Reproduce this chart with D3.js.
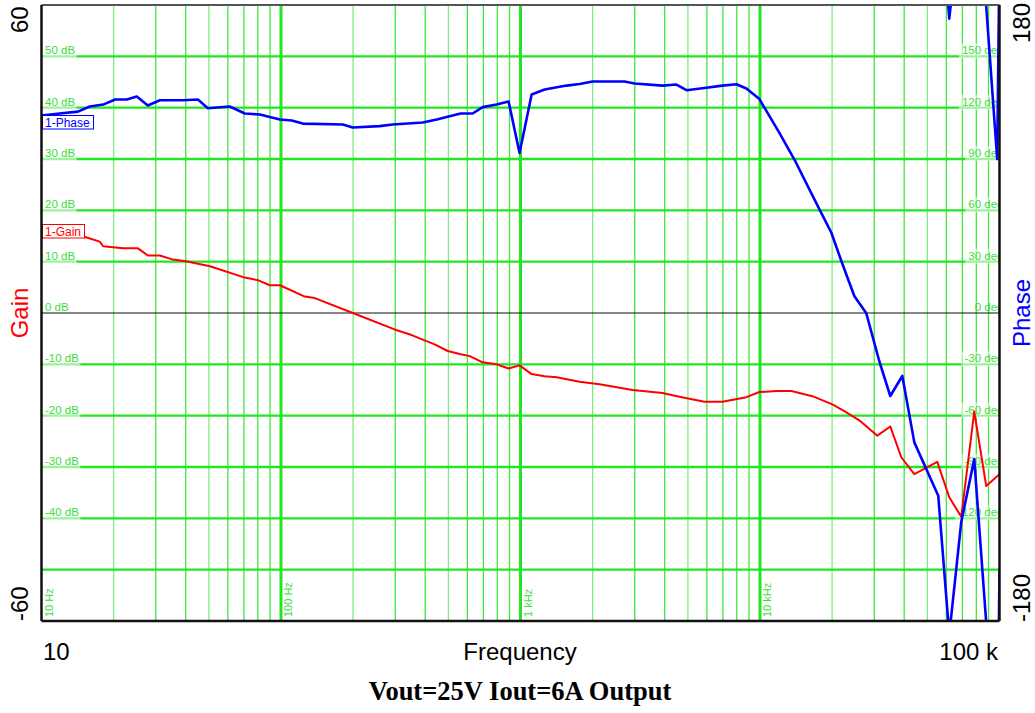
<!DOCTYPE html>
<html>
<head>
<meta charset="utf-8">
<script src="https://cdn.jsdelivr.net/npm/d3@7"></script>
<style>
  html, body { margin: 0; padding: 0; background: #fff; }
  svg { display: block; }
</style>
</head>
<body>
<svg id="chart" width="1035" height="713"></svg>
<script>
// Loop gain measurement: frequency (Hz) and gain (dB)
const freqGain = [10, 15.2, 17.5, 18.1, 21.9, 25.3, 27.8, 31.2, 35.4, 40.1, 50.5, 70.6, 80, 89.8, 98.9,
  125.7, 138.4, 199.4, 298, 351, 438, 497, 557, 614, 695, 795, 892, 991,
  1113, 1261, 1415, 1765, 2138, 2936, 3915, 4610, 5861, 6967, 8776, 9943,
  11710, 13520, 16550, 20050, 22500, 25980, 30890, 34990, 38900, 44090, 54970, 61700, 69220, 78450, 88020, 100000];
const gainDb = [16.0, 14.8, 13.9, 13.0, 12.6, 12.6, 11.2, 11.2, 10.4, 10.1, 9.1, 6.9, 6.4, 5.4, 5.4,
  3.2, 2.9, 0, -3.2, -4.3, -6.1, -7.4, -8.0, -8.4, -9.6, -10.0, -10.8, -10.2,
  -11.9, -12.3, -12.5, -13.4, -13.9, -15.0, -15.6, -16.3, -17.3, -17.3, -16.4, -15.4,
  -15.2, -15.2, -16.2, -17.8, -19.1, -20.9, -23.9, -22.1, -28.1, -31.4, -29.0, -35.9, -39.7, -19.2, -33.7, -31.4];

// Loop phase measurement: frequency (Hz) and unwrapped phase (deg)
const freqPhase = [10, 11.9, 14.2, 15.9, 18.1, 20.3, 22.7, 25.0, 27.8, 31.2, 38.9, 45.0, 49.5, 61.1, 70.6, 81.6, 98.9,
  110.9, 123.3, 181.1, 199.4, 258, 293, 391, 447, 506, 562, 631, 695, 795, 892, 991,
  1113, 1261, 1557, 1765, 1999, 2719, 2992, 3915, 4479, 4932, 5750, 6967, 7972, 8776, 9943,
  12050, 13920, 16870, 19860, 21860, 24760, 27790, 31490, 34990, 39280, 44090, 55500, 61700, 69220, 78450, 88020, 97800, 100000];
const phaseDeg = [115.4, 116.6, 117.7, 120.7, 121.8, 124.8, 124.8, 126.5, 121.3, 124.3, 124.3, 124.8, 119.7, 120.7, 116.6, 116.0, 113.1,
  112.5, 110.7, 110.2, 108.4, 109.2, 110.2, 111.3, 113.1, 115.0, 116.6, 116.6, 120.3, 121.8, 123.6, 93.5,
  127.7, 130.6, 132.9, 133.8, 135.3, 135.3, 134.1, 132.9, 133.5, 130.2, 131.3, 132.9, 133.7, 131.2, 125.0,
  105.3, 89.7, 66.4, 46.9, 30.4, 9.9, -0.2, -28.2, -48.5, -36.8, -75.6, -106.8, -188, -122.2, -85.4, -181, -270, -150];

// Axis tick values and labels
const gainTicks = [50, 40, 30, 20, 10, 0, -10, -20, -30, -40];
const phaseTicks = [150, 120, 90, 60, 30, 0, -30, -60, -90, -120];
const decadeFreqs = [10, 100, 1000, 10000];
const decadeNames = ["10 Hz", "100 Hz", "1 kHz", "10 kHz"];

const svg = d3.select("#chart");
const L = 41.5, R = 999.5, T = 5, B = 621;

const x = d3.scaleLog().domain([10, 100000]).range([L, R]);
const yG = d3.scaleLinear().domain([-60, 60]).range([B, T]);
const yP = d3.scaleLinear().domain([-180, 180]).range([B, T]);

const GREEN = "#22e622";
const LABEL_GREEN = "#3ddc3d";

svg.append("rect").attr("width", 1035).attr("height", 713).attr("fill", "#fff");

svg.append("defs").append("clipPath").attr("id", "plotClip")
  .append("rect").attr("x", L).attr("y", T).attr("width", R - L).attr("height", B - T);

const grid = svg.append("g");

// vertical minor lines (2..9 per decade)
const minor = [];
decadeFreqs.forEach(d => { for (let m = 2; m <= 9; m++) minor.push(d * m); });
grid.selectAll("line.minor").data(minor).join("line")
  .attr("class", "minor")
  .attr("x1", d => x(d)).attr("x2", d => x(d))
  .attr("y1", T).attr("y2", B)
  .attr("stroke", (d, i) => (i % 8 === 0 || i % 8 === 3) ? "#7eec7e" : "#3fe63f")
  .attr("stroke-width", 1.3);

// decade lines
grid.selectAll("line.major").data(decadeFreqs.slice(1)).join("line")
  .attr("class", "major")
  .attr("x1", d => x(d)).attr("x2", d => x(d))
  .attr("y1", T).attr("y2", B)
  .attr("stroke", GREEN).attr("stroke-width", 3);

// horizontal grid (every 10 dB / 30 deg)
const hLines = d3.range(-50, 60, 10);
grid.selectAll("line.h").data(hLines).join("line")
  .attr("class", "h")
  .attr("x1", L).attr("x2", R)
  .attr("y1", d => yG(d)).attr("y2", d => yG(d))
  .attr("stroke", d => d === 0 ? "#111" : GREEN)
  .attr("stroke-width", d => d === 0 ? 1.2 : 2.4);

// left gain labels with translucent boxes
const labelFont = "Liberation Sans, Arial, sans-serif";
const gl = svg.append("g");
gainTicks.forEach(v => {
  const bg = gl.append("rect").attr("fill", "#fff").attr("opacity", 0.55);
  const t = gl.append("text")
    .attr("x", L + 3.5).attr("y", yG(v) - 2)
    .attr("font-family", labelFont).attr("font-size", 11.5)
    .attr("fill", LABEL_GREEN).text(v + " dB");
  const w = t.node().getComputedTextLength();
  if (v !== 0) bg.attr("x", L + 1).attr("y", yG(v) - 13).attr("width", w + 4).attr("height", 15);
});

// right phase labels, clipped at plot edge
const pl = svg.append("g").attr("clip-path", "url(#plotClip)");
phaseTicks.forEach(v => {
  const bg = pl.append("rect").attr("fill", "#fff").attr("opacity", 0.55);
  const t = pl.append("text")
    .attr("x", R + 4).attr("y", yP(v) - 2)
    .attr("text-anchor", "end")
    .attr("font-family", labelFont).attr("font-size", 11.5)
    .attr("fill", LABEL_GREEN).text(v + " deg");
  const w = t.node().getComputedTextLength();
  if (v !== 0) bg.attr("x", R + 4 - w - 3).attr("y", yP(v) - 13).attr("width", w + 3).attr("height", 15);
});

// rotated decade labels along the bottom
svg.append("g").selectAll("text").data(decadeFreqs).join("text")
  .attr("transform", d => `translate(${x(d) + 11},${B - 4}) rotate(-90)`)
  .attr("font-family", labelFont).attr("font-size", 11)
  .attr("fill", LABEL_GREEN)
  .text((d, i) => decadeNames[i]);

// curves
const curves = svg.append("g").attr("clip-path", "url(#plotClip)");
const gainData = freqGain.map((f, i) => ({ f, v: gainDb[i] }));
const phaseData = freqPhase.map((f, i) => ({ f, v: phaseDeg[i] }));

curves.append("path")
  .datum(gainData)
  .attr("fill", "none").attr("stroke", "#ff0000").attr("stroke-width", 2)
  .attr("stroke-linejoin", "round")
  .attr("d", d3.line().x(d => x(d.f)).y(d => yG(d.v)));

// phase is displayed wrapped into ±180°
[-360, 0, 360].forEach(k => {
  curves.append("path")
    .datum(phaseData)
    .attr("fill", "none").attr("stroke", "#0000ff").attr("stroke-width", 2.6)
    .attr("stroke-linejoin", "round")
    .attr("d", d3.line().x(d => x(d.f)).y(d => yP(d.v + k)));
});

// trace tags
function tag(y, label, color, w) {
  svg.append("rect").attr("x", L + 1).attr("y", y).attr("width", w).attr("height", 13.5)
    .attr("fill", "#fff").attr("stroke", color).attr("stroke-width", 1);
  svg.append("text").attr("x", L + 3.5).attr("y", y + 11)
    .attr("font-family", labelFont).attr("font-size", 12)
    .attr("fill", color).text(label);
}
tag(115.5, "1-Phase", "#0000ff", 51);
tag(224.5, "1-Gain", "#ff0000", 42);

// frame
svg.append("line").attr("x1", L).attr("x2", R).attr("y1", T).attr("y2", T).attr("stroke", "#555").attr("stroke-width", 2);
svg.append("line").attr("x1", L).attr("x2", R).attr("y1", B).attr("y2", B).attr("stroke", "#111").attr("stroke-width", 2.5);
svg.append("line").attr("x1", L).attr("x2", L).attr("y1", T).attr("y2", B).attr("stroke", "#111").attr("stroke-width", 2.5);
svg.append("line").attr("x1", R).attr("x2", R).attr("y1", T).attr("y2", B).attr("stroke", "#111").attr("stroke-width", 2.5);

// outer axis text
const big = 24;
function vtext(px, py, txt, color, anchor) {
  svg.append("text")
    .attr("transform", `translate(${px},${py}) rotate(-90)`)
    .attr("text-anchor", anchor)
    .attr("font-family", labelFont).attr("font-size", big)
    .attr("fill", color).text(txt);
}
vtext(28, 33, "60", "#000", "start");
vtext(28, 621, "-60", "#000", "start");
vtext(28, yG(0), "Gain", "#ff0000", "middle");
vtext(1030, 43, "180", "#000", "start");
vtext(1030, 622, "-180", "#000", "start");
vtext(1030, yP(0), "Phase", "#0000ff", "middle");

svg.append("text").attr("x", 43).attr("y", 660)
  .attr("font-family", labelFont).attr("font-size", big).attr("fill", "#000").text("10");
svg.append("text").attr("x", 520).attr("y", 660).attr("text-anchor", "middle")
  .attr("font-family", labelFont).attr("font-size", big).attr("fill", "#000").text("Frequency");
svg.append("text").attr("x", 998).attr("y", 660).attr("text-anchor", "end")
  .attr("font-family", labelFont).attr("font-size", big).attr("fill", "#000").text("100 k");

svg.append("text").attr("x", 520).attr("y", 700).attr("text-anchor", "middle")
  .attr("font-family", "Liberation Serif, Times New Roman, serif").attr("font-weight", "bold")
  .attr("font-size", 26.5).attr("fill", "#000").text("Vout=25V Iout=6A Output");
</script>
</body>
</html>
